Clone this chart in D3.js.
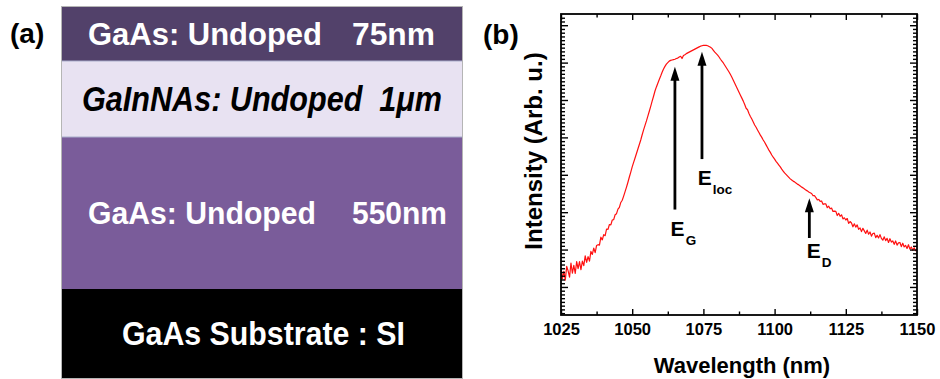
<!DOCTYPE html>
<html>
<head>
<meta charset="utf-8">
<script src="https://cdn.jsdelivr.net/npm/d3@7"></script>
<style>
  body { margin: 0; background: #fff; }
  svg { display: block; }
  text { font-family: "Liberation Sans", Arial, Helvetica, sans-serif; font-weight: bold; }
</style>
</head>
<body>
<svg id="fig" width="940" height="379"></svg>
<script>
// ---------- Panel (a): epitaxial layer stack, top to bottom ----------
const layerMaterial  = ["GaAs: Undoped", "GaInNAs: Undoped", "GaAs: Undoped", "GaAs Substrate : SI"];
const layerThickness = ["75nm", "1μm", "550nm", ""];

// ---------- Panel (b): photoluminescence spectrum ----------
const wavelengthStart = 1025;   // nm
const wavelengthStep  = 0.5;    // nm
const intensity = [
  1.50,1.22,1.42,1.18,1.55,1.43,1.26,1.64,1.37,1.58,
  1.36,1.68,1.49,1.68,1.46,1.69,1.57,1.83,1.66,1.81,
  1.69,1.95,1.87,2.04,1.92,2.11,2.13,2.12,2.33,2.26,
  2.40,2.37,2.55,2.54,2.67,2.66,2.79,2.80,2.93,2.96,
  3.08,3.13,3.26,3.32,3.43,3.55,3.67,3.80,3.94,4.07,
  4.21,4.33,4.45,4.57,4.69,4.81,4.93,5.07,5.20,5.32,
  5.44,5.57,5.70,5.83,5.97,6.10,6.24,6.35,6.45,6.55,
  6.64,6.74,6.83,6.90,6.96,7.00,7.04,7.06,7.07,7.08,
  7.09,7.11,7.12,7.15,7.17,7.11,7.19,7.21,7.24,7.26,
  7.28,7.30,7.32,7.34,7.36,7.38,7.40,7.42,7.44,7.45,
  7.46,7.46,7.46,7.45,7.43,7.41,7.38,7.33,7.28,7.24,
  7.20,7.15,7.09,7.04,6.99,6.93,6.87,6.81,6.75,6.68,
  6.61,6.53,6.45,6.37,6.29,6.21,6.13,6.05,5.97,5.88,
  5.78,5.74,5.64,5.56,5.49,5.41,5.33,5.27,5.20,5.13,
  5.06,5.00,4.93,4.87,4.80,4.73,4.66,4.60,4.53,4.47,
  4.42,4.36,4.31,4.26,4.21,4.15,4.10,4.05,4.01,3.97,
  3.93,3.89,3.86,3.83,3.81,3.78,3.75,3.73,3.70,3.67,
  3.65,3.62,3.59,3.57,3.54,3.52,3.50,3.44,3.44,3.39,
  3.33,3.34,3.29,3.30,3.21,3.22,3.22,3.12,3.16,3.09,
  3.11,3.02,3.03,3.02,2.91,2.97,2.89,2.93,2.82,2.85,
  2.79,2.83,2.70,2.75,2.71,2.61,2.69,2.60,2.66,2.54,
  2.58,2.48,2.57,2.50,2.43,2.52,2.41,2.47,2.36,2.43,
  2.44,2.32,2.38,2.31,2.40,2.30,2.25,2.34,2.24,2.30,
  2.19,2.29,2.20,2.23,2.14,2.23,2.12,2.18,2.19,2.08,
  2.17,2.07,2.11,2.03,2.13,2.01,2.07,1.98,2.05,1.97,
  2.01
];
const xTickValues = [1025, 1050, 1075, 1100, 1125, 1150];

// Transition markers: name, subscript, wavelength (nm), arrow tip / tail intensity
const markerName = ["E", "E", "E"];
const markerSub  = ["G", "loc", "D"];
const markerWavelength = [1065.0, 1074.5, 1112.2];
const markerTip  = [6.89, 7.29, 3.37];
const markerTail = [3.07, 4.42, 2.31];

// ====================================================================
const svg = d3.select("#fig");

// ---------- Panel (a) drawing ----------
const stack = { x: 62, y: 7, w: 400 };
const bandHeight = [54, 76, 152, 89];
const bandFill   = ["#52416a", "#e8e2f2", "#7a5c9a", "#000000"];
const bandInk    = ["#ffffff", "#000000", "#ffffff", "#ffffff"];
const bandItalic = [false, true, false, false];
const bandFont   = [31, 35, 31, 34];
// [x, width] of each label; a null thickness box means the thickness shares the material label
const materialBox  = [[88, 234], [82, 360], [88, 228], [122, 283]];
const thicknessBox = [[352, 83], null, [352, 95], null];

const bandTop = [stack.y, ...d3.cumsum(bandHeight).map(h => stack.y + h)];
const layers = layerMaterial.map((m, i) => ({
  material: m, thickness: layerThickness[i],
  y0: bandTop[i], y1: bandTop[i + 1]
}));

const gA = svg.append("g");
gA.selectAll("rect.layer").data(layers).join("rect")
  .attr("class", "layer")
  .attr("x", stack.x).attr("width", stack.w)
  .attr("y", d => d.y0).attr("height", d => d.y1 - d.y0)
  .attr("fill", (d, i) => bandFill[i]);

// faint separators around the light layer
gA.selectAll("line.sep").data([bandTop[1], bandTop[2]]).join("line")
  .attr("class", "sep")
  .attr("x1", stack.x).attr("x2", stack.x + stack.w)
  .attr("y1", d => d).attr("y2", d => d)
  .attr("stroke", "#a9aecb").attr("stroke-width", 1);

gA.append("rect")
  .attr("x", stack.x - 0.5).attr("y", stack.y - 0.5)
  .attr("width", stack.w + 1).attr("height", bandTop[4] - stack.y + 1)
  .attr("fill", "none").attr("stroke", "#b5b5b5").attr("stroke-width", 1);

layers.forEach((d, i) => {
  const fs = bandFont[i];
  const base = (d.y0 + d.y1) / 2 + fs * 0.35;
  const put = (str, box) => gA.append("text")
    .attr("x", box[0]).attr("y", base)
    .attr("textLength", box[1]).attr("lengthAdjust", "spacingAndGlyphs")
    .attr("font-size", fs)
    .attr("font-style", bandItalic[i] ? "italic" : "normal")
    .attr("fill", bandInk[i])
    .style("white-space", "pre")
    .text(str);
  if (thicknessBox[i]) {
    put(d.material, materialBox[i]);
    put(d.thickness, thicknessBox[i]);
  } else {
    put(d.thickness ? `${d.material}  ${d.thickness}` : d.material, materialBox[i]);
  }
});

svg.append("text").attr("x", 10).attr("y", 43)
  .attr("font-size", 28).text("(a)");

// ---------- Panel (b) drawing ----------
const plot = { left: 561, right: 917, top: 14, bottom: 315 };
const x = d3.scaleLinear().domain([1025, 1150]).range([plot.left, plot.right]);
const y = d3.scaleLinear().domain([0.25, 8.3]).range([plot.bottom, plot.top]);

const gB = svg.append("g");

svg.append("defs").append("clipPath").attr("id", "plotClip")
  .append("rect")
  .attr("x", plot.left).attr("y", plot.top)
  .attr("width", plot.right - plot.left).attr("height", plot.bottom - plot.top);

const spectrum = intensity.map((v, i) => [wavelengthStart + i * wavelengthStep, v]);
gB.append("path")
  .datum(spectrum)
  .attr("clip-path", "url(#plotClip)")
  .attr("fill", "none")
  .attr("stroke", "#ff1010")
  .attr("stroke-width", 1.2)
  .attr("stroke-linejoin", "round")
  .attr("d", d3.line().x(d => x(d[0])).y(d => y(d[1])));

// axes: inward ticks on all four sides
const xMinor = d3.range(1037.5, 1150, 25);
const yMajor = d3.range(1, 9);
const yMinor = d3.range(3, 83).filter(k => k % 10 !== 0).map(k => k / 10);

function styleAxis(g) {
  g.select(".domain").remove();
  g.selectAll(".tick line").attr("stroke", "#000").attr("stroke-width", 1.4);
}

gB.append("g").attr("transform", `translate(0,${plot.bottom})`)
  .call(d3.axisBottom(x).tickValues(xTickValues).tickSize(-6).tickPadding(8).tickFormat(d3.format("d")))
  .call(styleAxis)
  .call(g => g.selectAll(".tick text")
    .attr("font-size", 16.5).attr("font-family", "Liberation Sans, Arial, sans-serif")
    .attr("font-weight", "bold").attr("fill", "#000"));
gB.append("g").attr("transform", `translate(0,${plot.bottom})`)
  .call(d3.axisBottom(x).tickValues(xMinor).tickSize(-3.5).tickFormat(""))
  .call(styleAxis);
gB.append("g").attr("transform", `translate(0,${plot.top})`)
  .call(d3.axisTop(x).tickValues(xTickValues).tickSize(-6).tickFormat(""))
  .call(styleAxis);
gB.append("g").attr("transform", `translate(0,${plot.top})`)
  .call(d3.axisTop(x).tickValues(xMinor).tickSize(-3.5).tickFormat(""))
  .call(styleAxis);

gB.append("g").attr("transform", `translate(${plot.left},0)`)
  .call(d3.axisLeft(y).tickValues(yMajor).tickSize(-7).tickFormat(""))
  .call(styleAxis);
gB.append("g").attr("transform", `translate(${plot.left},0)`)
  .call(d3.axisLeft(y).tickValues(yMinor).tickSize(-4).tickFormat(""))
  .call(styleAxis);
gB.append("g").attr("transform", `translate(${plot.right},0)`)
  .call(d3.axisRight(y).tickValues(yMajor).tickSize(-7).tickFormat(""))
  .call(styleAxis);
gB.append("g").attr("transform", `translate(${plot.right},0)`)
  .call(d3.axisRight(y).tickValues(yMinor).tickSize(-4).tickFormat(""))
  .call(styleAxis);

gB.append("rect")
  .attr("x", plot.left).attr("y", plot.top)
  .attr("width", plot.right - plot.left).attr("height", plot.bottom - plot.top)
  .attr("fill", "none").attr("stroke", "#000").attr("stroke-width", 1.8);

// axis titles
gB.append("text")
  .attr("x", (plot.left + plot.right) / 2 + 3).attr("y", 372.5)
  .attr("text-anchor", "middle").attr("font-size", 22)
  .text("Wavelength (nm)");
gB.append("text")
  .attr("transform", "translate(542,151) rotate(-90)")
  .attr("text-anchor", "middle").attr("font-size", 24)
  .text("Intensity (Arb. u.)");

svg.append("text").attr("x", 483).attr("y", 44)
  .attr("font-size", 28).text("(b)");

// transition arrows and labels
const markers = markerName.map((n, i) => ({
  name: n, sub: markerSub[i], wl: markerWavelength[i],
  tip: markerTip[i], tail: markerTail[i]
}));
const headLen = 14, headHalf = 4.5;
markers.forEach((m, i) => {
  const px = x(m.wl), yTip = y(m.tip), yTail = y(m.tail);
  gB.append("line")
    .attr("x1", px).attr("x2", px)
    .attr("y1", yTail).attr("y2", yTip + headLen - 1)
    .attr("stroke", "#000").attr("stroke-width", 2.8);
  gB.append("path")
    .attr("d", `M${px},${yTip} L${px - headHalf},${yTip + headLen} L${px + headHalf},${yTip + headLen} Z`)
    .attr("fill", "#000");
  const lbl = gB.append("text")
    .attr("x", px - (i === 2 ? 2.6 : 4.3))
    .attr("y", yTail + (i === 2 ? 20 : 26))
    .attr("font-size", 21);
  lbl.append("tspan").text(m.name);
  lbl.append("tspan").attr("font-size", 13.5).attr("dx", 1).attr("dy", 9).text(m.sub);
});
</script>
</body>
</html>
